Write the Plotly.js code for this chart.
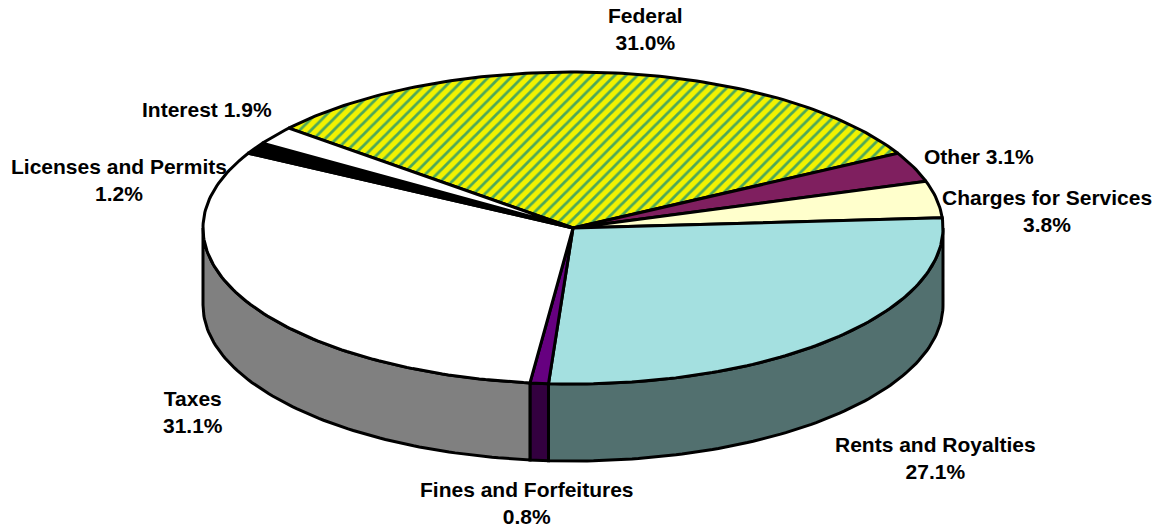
<!DOCTYPE html>
<html><head><meta charset="utf-8">
<script src="https://cdn.plot.ly/plotly-3.0.1.min.js"></script>
<style>html,body{margin:0;padding:0;background:#fff}#c{width:1162px;height:531px}</style>
</head><body><div id="c"></div>
<script>
const categories = ["Federal","Other","Charges for Services","Rents and Royalties","Fines and Forfeitures","Taxes","Licenses and Permits","Interest"];
const shares = [31.0,3.1,3.8,27.1,0.8,31.1,1.2,1.9];
const topColors = ["#FFFF00","#7F1F5F","#FFFFCC","#A4E0E0","#660080","#FFFFFF","#000000","#FFFFFF"];
const wallColors = ["#808000","#400F30","#808066","#52706F","#33003F","#808080","#000000","#808080"];
const labelTexts = ["Federal<br>31.0%","Other 3.1%","Charges for Services<br>3.8%","Rents and Royalties<br>27.1%","Fines and Forfeitures<br>0.8%","Taxes<br>31.1%","Licenses and Permits<br>1.2%","Interest 1.9%"];
const labelX = [645,979,1047,935,527,193,119,207];
const labelY = [29,156,211,458,503,412,180,109];

const cx=573, cy=228, rx=370, ry=156, depth=77, startDeg=140.2;
const rad=d=>d*Math.PI/180;
const px=d=>cx+rx*Math.cos(rad(d));
const py=d=>cy-ry*Math.sin(rad(d));
function arc(a,b){const n=Math.max(2,Math.ceil(Math.abs(a-b)));const o=[];for(let i=0;i<=n;i++){o.push(a+(b-a)*i/n);}return o;}

const traces=[];
let a=startDeg;
const spans=shares.map(s=>{const b=a-s*3.6;const r=[a,b];a=b;return r;});
const base={type:"scatter",mode:"lines",fill:"toself",hoverinfo:"skip",showlegend:false};
const line={color:"#000",width:3};
// outer walls: only the lower half of the rim (angles -180..0) is visible
spans.forEach(([s,e],i)=>{
  for(const off of [0,-360]){
    const hi=Math.min(s+off,0), lo=Math.max(e+off,-180);
    if(hi<=lo) continue;
    const d=arc(hi,lo);
    const xs=d.map(px).concat(d.slice().reverse().map(px));
    const ys=d.map(v=>py(v)).concat(d.slice().reverse().map(v=>py(v)+depth));
    xs.push(xs[0]);ys.push(ys[0]);
    traces.push({...base,x:xs,y:ys,fillcolor:wallColors[i],line,name:categories[i]+" wall"});
  }
});
// top faces
spans.forEach(([s,e],i)=>{
  const d=arc(s,e);
  const xs=[cx].concat(d.map(px),[cx]);
  const ys=[cy].concat(d.map(py),[cy]);
  const t={...base,x:xs,y:ys,fillcolor:topColors[i],line,name:categories[i]};
  if(i===0){t.fillpattern={shape:"/",size:8,solidity:0.35,fgcolor:"#4CA85A",bgcolor:"#F2F200",fillmode:"replace"};}
  traces.push(t);
});
const annotations=labelTexts.map((t,i)=>({x:labelX[i],y:labelY[i],xref:"x",yref:"y",text:t,showarrow:false,xanchor:"center",yanchor:"middle",
  font:{family:"'Liberation Sans',Arial,sans-serif",size:21,color:"#000",weight:700},align:"center"}));
Plotly.newPlot("c",traces,{
  width:1162,height:531,margin:{l:0,r:0,t:0,b:0},paper_bgcolor:"#fff",plot_bgcolor:"#fff",showlegend:false,
  xaxis:{range:[0,1162],visible:false,fixedrange:true},
  yaxis:{range:[531,0],visible:false,fixedrange:true},
  annotations
},{displayModeBar:false,staticPlot:true});
</script></body></html>
